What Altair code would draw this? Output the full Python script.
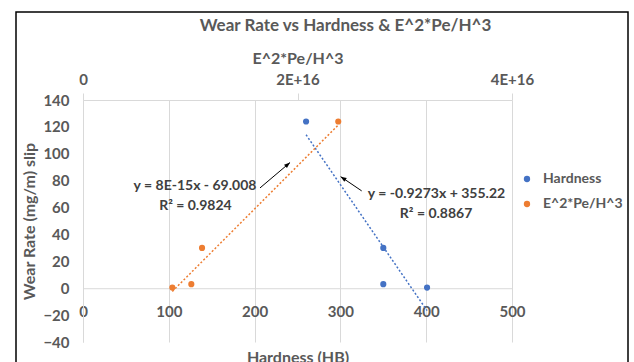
import altair as alt
import pandas as pd

# ---------------- data ----------------
series_names = ["Hardness", "E^2*Pe/H^3"]
series_colors = ["#4472C4", "#ED7D31"]

wear_rate = [124, 30, 3, 0.5]
hardness = [260, 350, 350, 401]
e_param = [2.38e16, 1.11e16, 1.01e16, 0.833e16]

hb_ticks = [0, 100, 200, 300, 400, 500]
e_ticks = [0, 2e16, 4e16]
y_ticks = [-40, -20, 0, 20, 40, 60, 80, 100, 120, 140]

hb_fit = (-0.9273, 355.22)
e_fit = (8e-15, -69.008)

ann_text = ["y = 8E-15x - 69.008", "R² = 0.9824", "y = -0.9273x + 355.22", "R² = 0.8867"]
ann_x = [130.5, 131.0, 412.0, 411.5]
ann_y = [76.2, 61.2, 69.9, 55.3]

arrow_x0 = [206.3, 324.8]
arrow_y0 = [74.6, 72.4]
arrow_x1 = [241.3, 300.3]
arrow_y1 = [93.5, 83.0]
arrow_angle = [50, 304]

# ---------------- frames ----------------
df_hb = pd.DataFrame({"x": hardness, "wear": wear_rate, "series": series_names[0]})
df_e = pd.DataFrame({"x": e_param, "wear": wear_rate, "series": series_names[1]})

hb_lo, hb_hi = min(hardness), max(hardness)
e_lo, e_hi = min(e_param), max(e_param)
df_hb_fit = pd.DataFrame({"x": [hb_lo, hb_hi],
                          "wear": [hb_fit[0] * hb_lo + hb_fit[1], hb_fit[0] * hb_hi + hb_fit[1]],
                          "series": series_names[0]})
df_e_fit = pd.DataFrame({"x": [e_lo, e_hi],
                         "wear": [e_fit[0] * e_lo + e_fit[1], e_fit[0] * e_hi + e_fit[1]],
                         "series": series_names[1]})
df_ann = pd.DataFrame({"x": ann_x, "wear": ann_y, "text": ann_text})
df_arrow = pd.DataFrame({"x": arrow_x0, "wear": arrow_y0, "x1": arrow_x1,
                         "y1": arrow_y1, "angle": arrow_angle})

FONT = "Lato"
GREY = "#595959"
LINE = "#D9D9D9"

y_scale = alt.Scale(domain=[-40, 140], nice=False, zero=False)
y_axis = alt.Axis(values=y_ticks, title="Wear Rate (mg/m) slip", grid=False, labelOverlap=False,
                  ticks=False, domainColor=LINE, labelPadding=14, titlePadding=5)
hb_scale = alt.Scale(domain=[0, 500], nice=False, zero=False)
e_scale = alt.Scale(domain=[0, 4e16], nice=False, zero=False)

color = alt.Color("series:N", scale=alt.Scale(domain=series_names, range=series_colors),
                  legend=alt.Legend(title=None, orient="none", legendX=437, legendY=72,
                                    symbolType="circle", symbolSize=40, symbolStrokeWidth=0,
                                    labelFont=FONT, labelFontSize=14, labelFontWeight="bold",
                                    labelColor=GREY, rowPadding=11, labelOffset=9, padding=0))

H = 242
offset_zero = -(0 - (-40)) / 180 * H

# ---------- Hardness layer ----------
pts_hb = alt.Chart(df_hb).mark_circle(size=38, opacity=1).encode(
    x=alt.X("x:Q", scale=hb_scale,
            axis=alt.Axis(orient="bottom", values=hb_ticks, offset=offset_zero, grid=True,
                          gridColor=LINE, domainColor=LINE, ticks=False, tickSize=0,
                          labelFlush=False, labelOverlap=False,
                          labelPadding=16, title="Hardness (HB)", titlePadding=30)),
    y=alt.Y("wear:Q", scale=y_scale, axis=y_axis),
    color=color,
)
fit_hb = alt.Chart(df_hb_fit).mark_line(strokeDash=[2, 2], strokeWidth=1.5).encode(
    x=alt.X("x:Q", scale=hb_scale), y=alt.Y("wear:Q", scale=y_scale, axis=y_axis), color=color)

ann = alt.Chart(df_ann).mark_text(font=FONT, fontSize=14, fontWeight="bold", color="#404040").encode(
    x=alt.X("x:Q", scale=hb_scale), y=alt.Y("wear:Q", scale=y_scale, axis=y_axis), text="text:N")

arr_line = alt.Chart(df_arrow).mark_rule(color="#000000", strokeWidth=1).encode(
    x=alt.X("x:Q", scale=hb_scale), y=alt.Y("wear:Q", scale=y_scale, axis=y_axis), x2="x1:Q", y2="y1:Q")
arr_head = alt.Chart(df_arrow).mark_point(shape="M0,0L-0.6,1.6L0.6,1.6Z", size=55, filled=True,
                                          color="#000000", opacity=1).encode(
    x=alt.X("x1:Q", scale=hb_scale), y=alt.Y("y1:Q", scale=y_scale, axis=y_axis),
    angle=alt.Angle("angle:Q", scale=None))

frame = alt.Chart(pd.DataFrame({"a": [0]})).mark_rect(fill=None, stroke="#000000", strokeWidth=1.5).encode(
    x=alt.value(-67), x2=alt.value(545), y=alt.value(-88), y2=alt.value(300))

layer_hb = alt.layer(frame, pts_hb, fit_hb, arr_line, arr_head, ann)

# ---------- E^2*Pe/H^3 layer ----------
pts_e = alt.Chart(df_e).mark_circle(size=38, opacity=1).encode(
    x=alt.X("x:Q", scale=e_scale,
            axis=alt.Axis(orient="top", values=e_ticks, grid=False, domainColor=LINE,
                          tickColor=LINE, ticks=True, tickSize=7, labelPadding=6,
                          labelFlush=False, labelOverlap=False,
                          labelExpr="datum.value == 0 ? '0' : format(datum.value / 1e16, 'd') + 'E+16'",
                          title="E^2*Pe/H^3", titleY=-37, titleBaseline="alphabetic")),
    y=alt.Y("wear:Q", scale=y_scale, axis=y_axis),
    color=color,
)
fit_e = alt.Chart(df_e_fit).mark_line(strokeDash=[2, 2], strokeWidth=1.5).encode(
    x=alt.X("x:Q", scale=e_scale), y=alt.Y("wear:Q", scale=y_scale, axis=y_axis), color=color)

layer_e = alt.layer(pts_e, fit_e)

chart = alt.layer(layer_hb, layer_e).resolve_scale(x="independent").properties(
    width=429, height=H,
    title=alt.TitleParams("Wear Rate vs Hardness & E^2*Pe/H^3", font=FONT, fontSize=17,
                          fontWeight="bold", color=GREY, anchor="middle", dx=48, offset=0, dy=24),
    autosize=alt.AutoSizeParams(type="none"),
    padding={"left": 83, "top": 100, "right": 122, "bottom": 20},
    background="white",
).configure_view(stroke=None).configure_axis(
    labelFont=FONT, labelFontSize=15, labelFontWeight="bold", labelColor=GREY,
    titleFont=FONT, titleFontSize=16, titleFontWeight="bold", titleColor=GREY,
).configure_axisY(labelOverlap=False)

chart.save("out.html", embed_options={"renderer": "svg", "actions": False})
